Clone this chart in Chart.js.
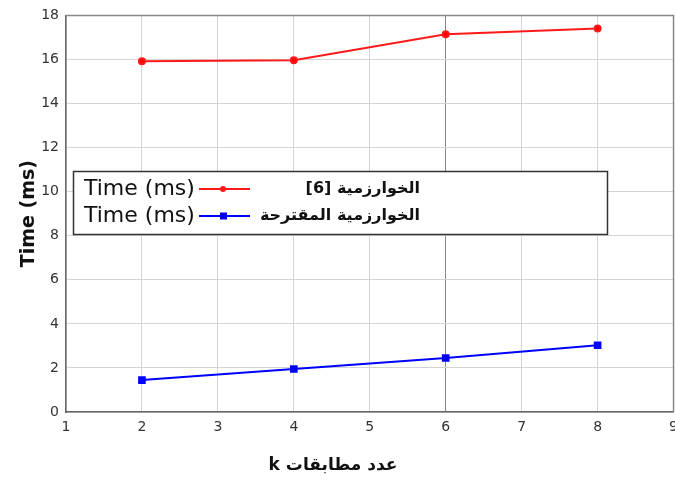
<!DOCTYPE html>
<html>
<head>
<meta charset="utf-8">
<script src="https://cdn.jsdelivr.net/npm/chart.js@4"></script>
<style>
  body { margin: 0; background: #fff; overflow: hidden; }
  #wrap { width: 675px; height: 484px; overflow: hidden; }
  canvas { display: block; }
</style>
</head>
<body>
<div id="wrap"><canvas id="myChart" width="685" height="484" style="width:685px;height:484px"></canvas></div>
<script>
// values
const kValues = [2, 4, 6, 8]
const oldTimes = [15.92, 15.97, 17.14, 17.41]
const newTimes = [1.45, 1.95, 2.45, 3.03]
const seriesPrefix = ['Time (ms)', 'Time (ms)']
const seriesNames = ['الخوارزمية [6]', 'الخوارزمية المقترحة']
const xTitle = 'عدد مطابقات k'
const yTitle = 'Time (ms)'

const toPoints = (vals) => kValues.map((k, i) => ({ x: k, y: vals[i] }))

// legend drawn inside the plot like the original
const boxLegend = {
  id: 'boxLegend',
  afterDraw(chart) {
    const ctx = chart.ctx
    ctx.save()
    ctx.strokeStyle = '#333'
    ctx.lineWidth = 1.5
    ctx.fillStyle = '#fff'
    ctx.fillRect(73, 171, 534, 63)
    ctx.strokeRect(73.5, 171.5, 534, 63)
    chart.data.datasets.forEach((ds, i) => {
      const y = 189 + i * 27
      ctx.fillStyle = '#111'
      ctx.textBaseline = 'middle'
      ctx.textAlign = 'left'
      ctx.direction = 'ltr'
      ctx.font = '22px "DejaVu Sans"'
      ctx.fillText(seriesPrefix[i], 84, y)
      ctx.strokeStyle = ds.borderColor
      ctx.lineWidth = 2
      ctx.beginPath()
      ctx.moveTo(199, y)
      ctx.lineTo(250, y)
      ctx.stroke()
      ctx.fillStyle = ds.borderColor
      if (ds.pointStyle === 'rect') {
        ctx.fillRect(220, y - 3.5, 7, 7)
      } else {
        ctx.beginPath()
        ctx.arc(223, y, 3, 0, Math.PI * 2)
        ctx.fill()
      }
      ctx.fillStyle = '#111'
      ctx.direction = 'rtl'
      ctx.textAlign = 'right'
      ctx.font = 'bold 16px "DejaVu Sans"'
      ctx.fillText(seriesNames[i], 420, y)
    })
    // x axis title, centred on the page as in the original
    ctx.fillStyle = '#111'
    ctx.direction = 'rtl'
    ctx.textAlign = 'center'
    ctx.textBaseline = 'middle'
    ctx.font = 'bold 17px "DejaVu Sans"'
    ctx.fillText(xTitle, 333, 466)
    ctx.restore()
  }
}

const ctx = document.getElementById('myChart')
new Chart(ctx, {
  type: 'line',
  data: {
    datasets: [{
      label: seriesPrefix[0] + ' ' + seriesNames[0],
      data: toPoints(oldTimes),
      borderColor: '#ff1a1a',
      backgroundColor: '#ff0000',
      borderWidth: 2,
      pointRadius: 3,
      pointStyle: 'circle',
      tension: 0
    }, {
      label: seriesPrefix[1] + ' ' + seriesNames[1],
      data: toPoints(newTimes),
      borderColor: '#0000ff',
      backgroundColor: '#0000ff',
      borderWidth: 2,
      pointRadius: 4,
      pointStyle: 'rect',
      tension: 0
    }]
  },
  options: {
    responsive: false,
    animation: false,
    layout: { padding: { top: 13, right: 0, left: 0, bottom: 0 } },
    plugins: { legend: { display: false }, tooltip: { enabled: false } },
    scales: {
      x: {
        type: 'linear',
        min: 1, max: 9,
        afterFit: (s) => { s.height = 72 },
        border: { color: '#666', width: 1.5 },
        grid: {
          color: (c) => c.tick && c.tick.value === 6 ? '#8a8a8a' : '#d4d4d4',
          drawTicks: false, lineWidth: 1
        },
        ticks: { stepSize: 1, padding: 7, color: '#333', font: { family: 'DejaVu Sans', size: 14 } }
      },
      y: {
        min: 0, max: 18,
        afterFit: (s) => { s.width = 66 },
        border: { color: '#666', width: 1.5 },
        grid: { color: '#d4d4d4', drawTicks: false, lineWidth: 1 },
        ticks: { stepSize: 2, padding: 7, color: '#333', font: { family: 'DejaVu Sans', size: 14 } },
        title: { display: true, text: yTitle, color: '#111', padding: { top: 18 }, font: { family: 'DejaVu Sans', size: 19, weight: 'bold' } }
      }
    }
  },
  plugins: [boxLegend, {
    id: 'frame',
    afterDraw(chart) {
      const a = chart.chartArea
      const c = chart.ctx
      c.save()
      c.strokeStyle = '#888'
      c.lineWidth = 1.5
      c.beginPath()
      c.moveTo(a.left, a.top)
      c.lineTo(a.right, a.top)
      c.lineTo(a.right, a.bottom)
      c.stroke()
      c.restore()
    }
  }]
})
</script>
</body>
</html>
